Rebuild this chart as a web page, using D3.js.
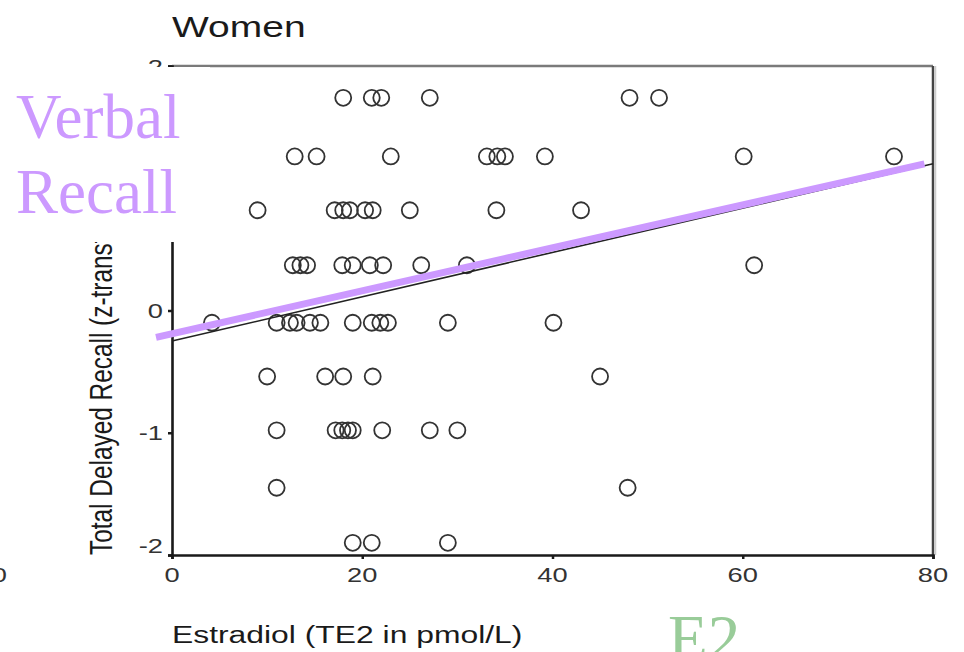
<!DOCTYPE html>
<html>
<head>
<meta charset="utf-8">
<script src="https://cdn.jsdelivr.net/npm/d3@7"></script>
<style>
  html, body { margin: 0; padding: 0; background: #fff; }
  svg { display: block; }
  text { font-family: "Liberation Sans", Arial, sans-serif; }
  .serif { font-family: "Liberation Serif", "Times New Roman", serif; }
</style>
</head>
<body>
<svg id="chart" width="964" height="652"></svg>
<script>
// scatter points (estradiol pmol/L, recall z)
const estradiol = [
  18.0, 21.0, 22.0, 27.1, 48.1, 51.2,
  12.9, 15.2, 23.0, 33.1, 34.2, 35.0, 39.2, 60.1, 75.9,
  9.0, 17.1, 18.0, 18.7, 20.3, 21.1, 25.0, 34.1, 43.0,
  12.7, 13.5, 14.2, 17.9, 19.0, 20.8, 22.2, 26.2, 31.0, 61.2,
  4.2, 11.0, 12.4, 13.1, 14.5, 15.6, 19.0, 21.0, 21.9, 22.7, 29.0, 40.1,
  10.0, 16.1, 18.0, 21.1, 45.0,
  11.0, 17.2, 17.9, 18.5, 19.0, 22.1, 27.1, 30.0,
  11.0, 47.9,
  19.0, 21.0, 29.0
];
const recall = [
  1.74, 1.74, 1.74, 1.74, 1.74, 1.74,
  1.26, 1.26, 1.26, 1.26, 1.26, 1.26, 1.26, 1.26, 1.26,
  0.82, 0.82, 0.82, 0.82, 0.82, 0.82, 0.82, 0.82, 0.82,
  0.37, 0.37, 0.37, 0.37, 0.37, 0.37, 0.37, 0.37, 0.37, 0.37,
  -0.10, -0.10, -0.10, -0.10, -0.10, -0.10, -0.10, -0.10, -0.10, -0.10, -0.10, -0.10,
  -0.54, -0.54, -0.54, -0.54, -0.54,
  -0.98, -0.98, -0.98, -0.98, -0.98, -0.98, -0.98, -0.98,
  -1.45, -1.45,
  -1.90, -1.90, -1.90
];

// fit line from the plot and the purple line drawn over it
const fitLine = [[0, -0.25], [80, 1.20]];
const overlayLine = [[-1.68, -0.22], [79.1, 1.20]];

const xTicks = [0, 20, 40, 60, 80];
const yTicks = [-2, -1, 0, 1, 2];

const SX = 1.3; // the picture's text is stretched sideways
const BOX_BOTTOM = 242; // white box behind "Verbal Recall"

const svg = d3.select("#chart");

const x = d3.scaleLinear().domain([0, 80]).range([172, 933]);
const y = d3.scaleLinear().domain([-2, 2]).range([555, 66]);

// frame: top and right in grey
svg.append("line")
  .attr("x1", x(0)).attr("x2", x(80)).attr("y1", y(2)).attr("y2", y(2))
  .attr("stroke", "#7a7a7a").attr("stroke-width", 2.5);
svg.append("line")
  .attr("x1", x(80)).attr("x2", x(80)).attr("y1", y(2)).attr("y2", y(-2))
  .attr("stroke", "#444").attr("stroke-width", 2.5);
svg.append("line")
  .attr("x1", x(80) + 2.5).attr("x2", x(80) + 2.5).attr("y1", y(2)).attr("y2", y(-2))
  .attr("stroke", "#ccc").attr("stroke-width", 1.5);

// axes
const xAxis = d3.axisBottom(x).tickValues(xTicks).tickSize(4).tickFormat("");
const yAxis = d3.axisLeft(y).tickValues(yTicks).tickSize(4).tickFormat("");

const gx = svg.append("g").attr("transform", `translate(0,${y(-2)})`).call(xAxis);
const gy = svg.append("g").attr("transform", `translate(${x(0)},0)`).call(yAxis);
[gx, gy].forEach(g => {
  g.select(".domain").attr("stroke", "#1a1a1a").attr("stroke-width", 2.6);
  g.selectAll(".tick line").attr("stroke", "#1a1a1a").attr("stroke-width", 2.5);
});

// tick labels (stretched like the picture)
svg.append("g").selectAll("text")
  .data(xTicks)
  .join("text")
  .attr("transform", d => `translate(${x(d)},582) scale(${SX},1)`)
  .attr("text-anchor", "middle")
  .attr("font-size", 21)
  .attr("fill", "#333")
  .text(d => d);

// the "1" label sits fully under the white box in the picture, so it is not drawn
svg.append("g").selectAll("text")
  .data(yTicks.filter(d => y(d) - 8 < y(2) + 1 || y(d) > BOX_BOTTOM))
  .join("text")
  .attr("transform", d => `translate(${x(0) - 9},${Math.min(y(d) + 7.5, 553)}) scale(${SX},1)`)
  .attr("text-anchor", "end")
  .attr("font-size", 21)
  .attr("fill", "#333")
  .text(d => d);

// neighbouring panel's "80", cut at the left edge
svg.append("text")
  .attr("transform", `translate(7,582) scale(${SX},1)`)
  .attr("text-anchor", "end")
  .attr("font-size", 21)
  .attr("fill", "#333")
  .text("80");

// points
svg.append("g").selectAll("circle")
  .data(estradiol.map((v, i) => [v, recall[i]]))
  .join("circle")
  .attr("cx", d => x(d[0]))
  .attr("cy", d => y(d[1]))
  .attr("r", 8)
  .attr("fill", "none")
  .attr("stroke", "#333")
  .attr("stroke-width", 1.8);

// regression line from the plot
const line = d3.line().x(d => x(d[0])).y(d => y(d[1]));
svg.append("path")
  .attr("d", line(fitLine))
  .attr("fill", "none")
  .attr("stroke", "#222")
  .attr("stroke-width", 1.6);

// titles
svg.append("text")
  .attr("transform", `translate(172,37) scale(${SX},1)`)
  .attr("font-size", 30)
  .attr("fill", "#1a1a1a")
  .text("Women");

svg.append("text")
  .attr("transform", `translate(172,643) scale(${SX},1)`)
  .attr("font-size", 24.5)
  .attr("fill", "#1a1a1a")
  .text("Estradiol (TE2 in pmol/L)");

svg.append("text")
  .attr("transform", `translate(112,555) scale(${SX},1) rotate(-90)`)
  .attr("font-size", 24.4)
  .attr("fill", "#1a1a1a")
  .text("Total Delayed Recall (z-transformed)");

// slide overlay: white box with the label, purple line, E2
svg.append("rect")
  .attr("x", 0).attr("y", y(2) + 1).attr("width", 210).attr("height", BOX_BOTTOM - y(2) - 1)
  .attr("fill", "#fff");

svg.append("text")
  .attr("class", "serif")
  .attr("x", 16).attr("y", 138)
  .attr("font-size", 63)
  .attr("fill", "#cc99ff")
  .text("Verbal");
svg.append("text")
  .attr("class", "serif")
  .attr("x", 16).attr("y", 213)
  .attr("font-size", 63)
  .attr("fill", "#cc99ff")
  .text("Recall");

svg.append("path")
  .attr("d", line(overlayLine))
  .attr("fill", "none")
  .attr("stroke", "#cc99ff")
  .attr("stroke-width", 7);

svg.append("text")
  .attr("class", "serif")
  .attr("x", 668).attr("y", 660)
  .attr("font-size", 65)
  .attr("fill", "#99cc99")
  .text("E2");
</script>
</body>
</html>
